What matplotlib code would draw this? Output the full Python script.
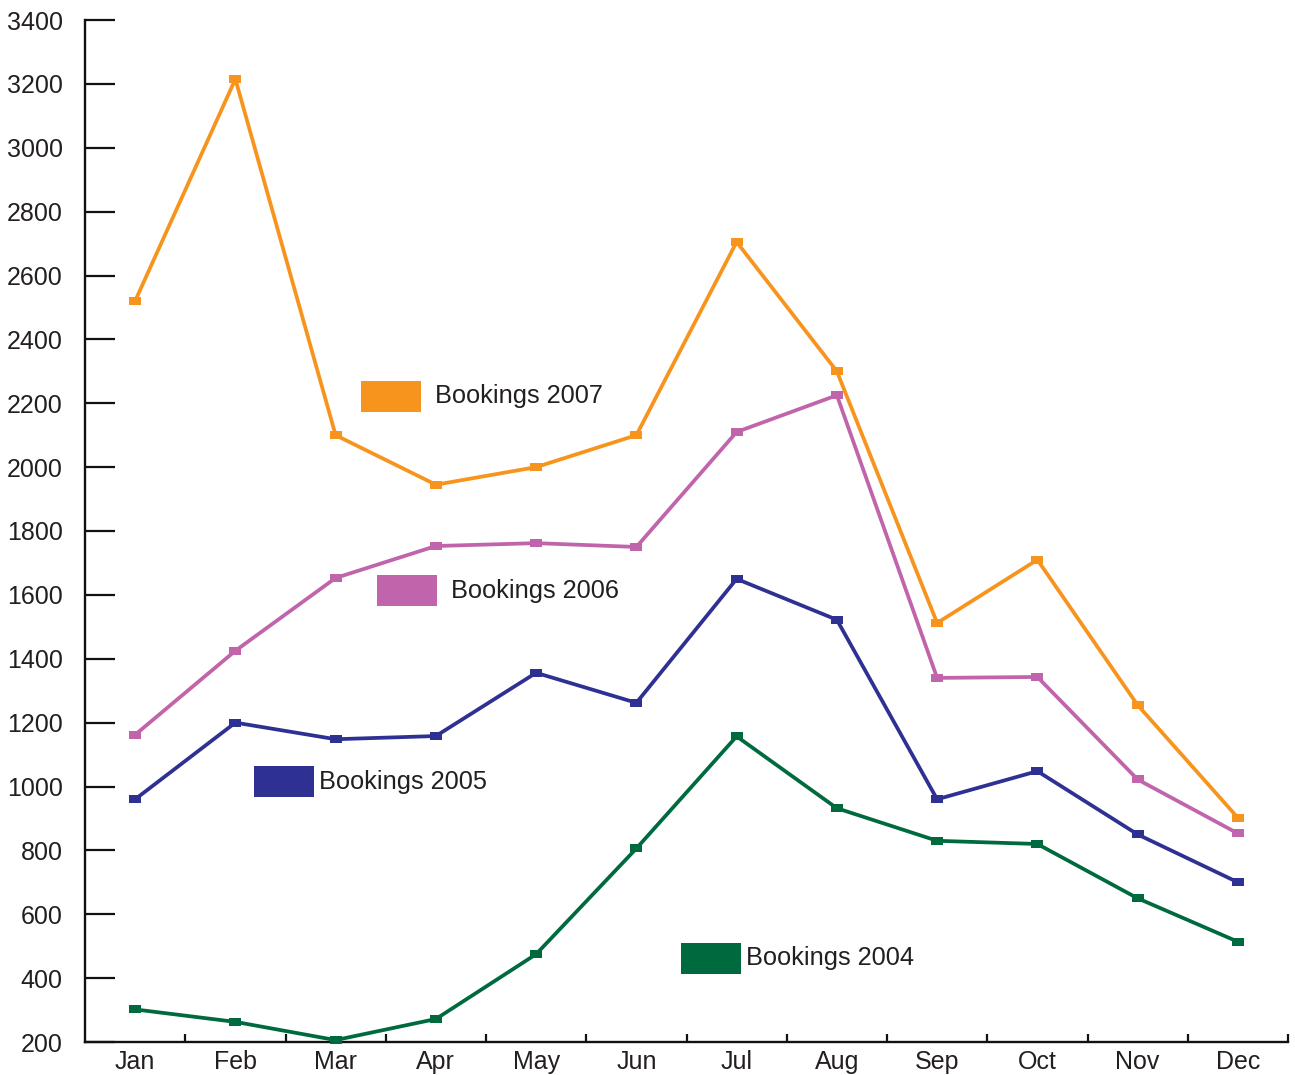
import matplotlib
matplotlib.use("Agg")
import matplotlib.pyplot as plt
from matplotlib.patches import Rectangle
import numpy as np

months = ["Jan", "Feb", "Mar", "Apr", "May", "Jun", "Jul", "Aug", "Sep", "Oct", "Nov", "Dec"]
bookings_2007 = [2520, 3215, 2100, 1945, 2000, 2100, 2705, 2300, 1512, 1710, 1255, 902]
bookings_2006 = [1162, 1425, 1653, 1753, 1762, 1750, 2110, 2225, 1340, 1343, 1022, 853]
bookings_2005 = [960, 1200, 1148, 1158, 1356, 1262, 1650, 1522, 960, 1048, 850, 700]
bookings_2004 = [302, 263, 206, 272, 475, 806, 1157, 932, 830, 820, 650, 514]
series_labels = ["Bookings 2007", "Bookings 2006", "Bookings 2005", "Bookings 2004"]
y_ticks = list(range(200, 3401, 200))

colors = ["#F7941D", "#C064AB", "#2E3192", "#006A3F"]
text_color = "#231F20"
# label box positions (x0, y0 in data units) and text gaps -- layout only
label_pos = [(2.253, 2173), (2.41, 1565), (1.186, 967), (5.445, 413)]
label_gap = [0.14, 0.14, 0.05, 0.05]
box_w, box_h = 0.6, 97

plt.rcParams["font.family"] = ["Liberation Sans", "DejaVu Sans"]

fig = plt.figure(figsize=(12.95, 10.75), dpi=100)
ax = fig.add_axes([85 / 1295, 33 / 1075, (1288 - 85) / 1295, (1042 - 20) / 1075])

x = np.arange(len(months))
marker = [(-1.4, -0.9), (1.4, -0.9), (1.4, 0.9), (-1.4, 0.9)]
for vals, c in zip([bookings_2007, bookings_2006, bookings_2005, bookings_2004], colors):
    ax.plot(x, vals, color=c, lw=2.7, marker=marker, markersize=9, markeredgewidth=0,
            clip_on=False, zorder=3)

for (x0, y0), gap, c, lab in zip(label_pos, label_gap, colors, series_labels):
    ax.add_patch(Rectangle((x0, y0), box_w, box_h, facecolor=c, edgecolor="none", zorder=3))
    ax.text(x0 + box_w + gap, y0 + box_h / 2, lab, fontsize=18.3, color=text_color,
            va="center", ha="left")

ax.set_xlim(-0.5, 11.5)
ax.set_ylim(200, 3400)
ax.set_yticks(y_ticks)
ax.set_yticklabels([str(v) for v in y_ticks])
ax.set_xticks(x)
ax.set_xticklabels(months)
ax.set_xticks(np.arange(0.5, 12, 1.0), minor=True)

for s in ["top", "right"]:
    ax.spines[s].set_visible(False)
for s in ["left", "bottom"]:
    ax.spines[s].set_linewidth(1.7)
    ax.spines[s].set_color("#111111")

ax.tick_params(axis="y", direction="in", length=21.5, width=1.6, pad=16,
               labelsize=18, labelcolor=text_color, color="#111111")
ax.tick_params(axis="x", which="major", length=0, pad=6, labelsize=18, labelcolor=text_color)
ax.tick_params(axis="x", which="minor", direction="in", length=5.5, width=1.6, color="#111111")

fig.savefig("out.png", dpi=100)
